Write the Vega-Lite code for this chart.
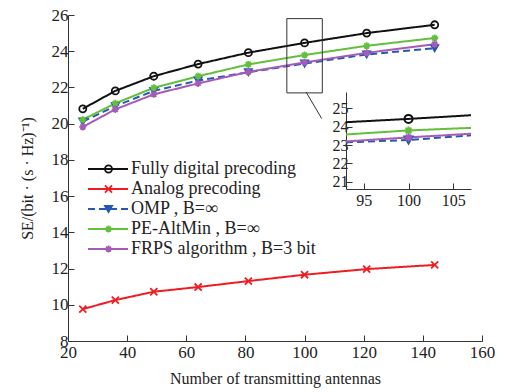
{
  "$schema": "https://vega.github.io/schema/vega-lite/v6.json",
  "autosize": "none",
  "width": 414,
  "height": 326,
  "padding": {"left": 68, "top": 15, "right": 24, "bottom": 51},
  "background": "white",
  "config": {
    "view": {"stroke": null},
    "font": "Liberation Serif, Times New Roman, serif",
    "axis": {
      "labelFont": "Liberation Serif, Times New Roman, serif",
      "titleFont": "Liberation Serif, Times New Roman, serif",
      "labelFontSize": 17,
      "titleFontSize": 16,
      "titleFontWeight": "normal",
      "labelColor": "#222",
      "titleColor": "#222",
      "domainColor": "#333",
      "tickColor": "#333",
      "grid": false,
      "tickSize": -6,
      "labelOverlap": false,
      "labelFlush": false,
      "format": "d"
    },
    "legend": {"labelFont": "Liberation Serif, Times New Roman, serif", "labelLimit": 400}
  },
  "datasets": {
    "main": [
      {"n": 25, "se": 20.82, "series": "Fully digital precoding", "ord": 1},
      {"n": 36, "se": 21.81, "series": "Fully digital precoding", "ord": 1},
      {"n": 49, "se": 22.62, "series": "Fully digital precoding", "ord": 1},
      {"n": 64, "se": 23.29, "series": "Fully digital precoding", "ord": 1},
      {"n": 81, "se": 23.92, "series": "Fully digital precoding", "ord": 1},
      {"n": 100, "se": 24.46, "series": "Fully digital precoding", "ord": 1},
      {"n": 121, "se": 25.0, "series": "Fully digital precoding", "ord": 1},
      {"n": 144, "se": 25.46, "series": "Fully digital precoding", "ord": 1},
      {"n": 25, "se": 9.76, "series": "Analog precoding", "ord": 2},
      {"n": 36, "se": 10.26, "series": "Analog precoding", "ord": 2},
      {"n": 49, "se": 10.72, "series": "Analog precoding", "ord": 2},
      {"n": 64, "se": 10.98, "series": "Analog precoding", "ord": 2},
      {"n": 81, "se": 11.31, "series": "Analog precoding", "ord": 2},
      {"n": 100, "se": 11.66, "series": "Analog precoding", "ord": 2},
      {"n": 121, "se": 11.97, "series": "Analog precoding", "ord": 2},
      {"n": 144, "se": 12.2, "series": "Analog precoding", "ord": 2},
      {"n": 25, "se": 20.12, "series": "OMP , B=∞", "ord": 3},
      {"n": 36, "se": 20.97, "series": "OMP , B=∞", "ord": 3},
      {"n": 49, "se": 21.81, "series": "OMP , B=∞", "ord": 3},
      {"n": 64, "se": 22.38, "series": "OMP , B=∞", "ord": 3},
      {"n": 81, "se": 22.84, "series": "OMP , B=∞", "ord": 3},
      {"n": 100, "se": 23.32, "series": "OMP , B=∞", "ord": 3},
      {"n": 121, "se": 23.82, "series": "OMP , B=∞", "ord": 3},
      {"n": 144, "se": 24.17, "series": "OMP , B=∞", "ord": 3},
      {"n": 25, "se": 20.22, "series": "PE-AltMin , B=∞", "ord": 4},
      {"n": 36, "se": 21.12, "series": "PE-AltMin , B=∞", "ord": 4},
      {"n": 49, "se": 21.98, "series": "PE-AltMin , B=∞", "ord": 4},
      {"n": 64, "se": 22.62, "series": "PE-AltMin , B=∞", "ord": 4},
      {"n": 81, "se": 23.27, "series": "PE-AltMin , B=∞", "ord": 4},
      {"n": 100, "se": 23.79, "series": "PE-AltMin , B=∞", "ord": 4},
      {"n": 121, "se": 24.3, "series": "PE-AltMin , B=∞", "ord": 4},
      {"n": 144, "se": 24.73, "series": "PE-AltMin , B=∞", "ord": 4},
      {"n": 25, "se": 19.82, "series": "FRPS algorithm , B=3 bit", "ord": 5},
      {"n": 36, "se": 20.79, "series": "FRPS algorithm , B=3 bit", "ord": 5},
      {"n": 49, "se": 21.62, "series": "FRPS algorithm , B=3 bit", "ord": 5},
      {"n": 64, "se": 22.22, "series": "FRPS algorithm , B=3 bit", "ord": 5},
      {"n": 81, "se": 22.86, "series": "FRPS algorithm , B=3 bit", "ord": 5},
      {"n": 100, "se": 23.38, "series": "FRPS algorithm , B=3 bit", "ord": 5},
      {"n": 121, "se": 23.91, "series": "FRPS algorithm , B=3 bit", "ord": 5},
      {"n": 144, "se": 24.39, "series": "FRPS algorithm , B=3 bit", "ord": 5}
    ],
    "inset": [
      {"n": 93, "se": 24.25, "series": "Fully digital precoding", "ord": 1},
      {"n": 100, "se": 24.43, "series": "Fully digital precoding", "ord": 1},
      {"n": 107, "se": 24.63, "series": "Fully digital precoding", "ord": 1},
      {"n": 93, "se": 23.15, "series": "OMP , B=∞", "ord": 3},
      {"n": 100, "se": 23.28, "series": "OMP , B=∞", "ord": 3},
      {"n": 107, "se": 23.53, "series": "OMP , B=∞", "ord": 3},
      {"n": 93, "se": 23.58, "series": "PE-AltMin , B=∞", "ord": 4},
      {"n": 100, "se": 23.8, "series": "PE-AltMin , B=∞", "ord": 4},
      {"n": 107, "se": 23.94, "series": "PE-AltMin , B=∞", "ord": 4},
      {"n": 93, "se": 23.2, "series": "FRPS algorithm , B=3 bit", "ord": 5},
      {"n": 100, "se": 23.42, "series": "FRPS algorithm , B=3 bit", "ord": 5},
      {"n": 107, "se": 23.62, "series": "FRPS algorithm , B=3 bit", "ord": 5}
    ],
    "box": [{"xa": 94, "xb": 106, "ya": 21.7, "yb": 25.8}],
    "conn": [{"xa": 100.5, "ya": 21.75, "xb": 105.8, "yb": 20.28}]
  },
  "layer": [
    {
      "layer": [
        {
          "data": {"name": "main"},
          "mark": {"type": "line", "strokeWidth": 2},
          "encoding": {
            "x": {"field": "n", "type": "quantitative", "title": "Number of transmitting antennas", "scale": {"domain": [20, 160], "nice": false}, "axis": {"values": [20, 40, 60, 80, 100, 120, 140, 160], "titlePadding": 10, "labelPadding": 9, "labelOverlap": false}},
            "y": {"field": "se", "type": "quantitative", "title": "SE/(bit · (s · Hz)⁻¹)", "scale": {"domain": [8, 26], "nice": false}, "axis": {"values": [8, 10, 12, 14, 16, 18, 20, 22, 24, 26], "titlePadding": 16, "labelPadding": 6, "labelOverlap": false}},
            "color": {"field": "series", "type": "nominal", "sort": {"field": "ord", "op": "min"}, "scale": {"range": ["#111111", "#ee1d23", "#2657b5", "#62c03c", "#a55cb8"]},
              "legend": {"orient": "none", "legendX": 31, "legendY": 145, "title": null, "symbolType": "M-5,0L5,0", "symbolSize": 64, "symbolStrokeWidth": 2, "labelFontSize": 18, "labelOffset": 14, "rowPadding": 2, "labelColor": "#222"}},
            "strokeDash": {"field": "series", "type": "nominal", "sort": {"field": "ord", "op": "min"}, "scale": {"range": [[1, 0], [1, 0], [7, 4], [1, 0], [1, 0]]},
              "legend": {"orient": "none", "legendX": 31, "legendY": 145, "title": null, "symbolType": "M-5,0L5,0", "symbolSize": 64, "symbolStrokeWidth": 2, "labelFontSize": 18, "labelOffset": 14, "rowPadding": 2, "labelColor": "#222"}},
            "detail": {"field": "series"}
          }
        },
        {
          "data": {"name": "main"},
          "transform": [{"calculate": "datum.series", "as": "m"}],
          "mark": {"type": "point", "filled": false, "size": 50, "strokeWidth": 1.8, "opacity": 1},
          "encoding": {
            "x": {"field": "n", "type": "quantitative", "title": "Number of transmitting antennas", "scale": {"domain": [20, 160], "nice": false}, "axis": {"values": [20, 40, 60, 80, 100, 120, 140, 160], "titlePadding": 10, "labelPadding": 9, "labelOverlap": false}},
            "y": {"field": "se", "type": "quantitative", "title": "SE/(bit · (s · Hz)⁻¹)", "scale": {"domain": [8, 26], "nice": false}, "axis": {"values": [8, 10, 12, 14, 16, 18, 20, 22, 24, 26], "titlePadding": 16, "labelPadding": 6, "labelOverlap": false}},
            "stroke": {"field": "m", "type": "nominal", "sort": {"field": "ord", "op": "min"}, "scale": {"range": ["#111111", "#ee1d23", "#2657b5", "#62c03c", "#a55cb8"]},
              "legend": {"orient": "none", "legendX": 31.5, "legendY": 145, "title": null, "symbolSize": 50, "symbolStrokeWidth": 1.8, "labelFontSize": 18, "labelOpacity": 0, "labelOffset": 14, "rowPadding": 2}},
            "fill": {"field": "m", "type": "nominal", "sort": {"field": "ord", "op": "min"}, "scale": {"range": ["transparent", "transparent", "#2657b5", "transparent", "transparent"]},
              "legend": {"orient": "none", "legendX": 31.5, "legendY": 145, "title": null, "symbolSize": 50, "symbolStrokeWidth": 1.8, "labelFontSize": 18, "labelOpacity": 0, "labelOffset": 14, "rowPadding": 2}},
            "shape": {"field": "m", "type": "nominal", "sort": {"field": "ord", "op": "min"}, "scale": {"range": ["circle", "M-1,-1L1,1M-1,1L1,-1", "triangle-down", "M-1,0L1,0M0,-1L0,1M-0.7,-0.7L0.7,0.7M-0.7,0.7L0.7,-0.7", "M-1,0L1,0M0,-1L0,1M-0.7,-0.7L0.7,0.7M-0.7,0.7L0.7,-0.7"]},
              "legend": {"orient": "none", "legendX": 31.5, "legendY": 145, "title": null, "symbolSize": 50, "symbolStrokeWidth": 1.8, "labelFontSize": 18, "labelOpacity": 0, "labelOffset": 14, "rowPadding": 2}}
          }
        },
        {
          "data": {"name": "box"},
          "mark": {"type": "rect", "fill": "transparent", "stroke": "#333", "strokeWidth": 1},
          "encoding": {
            "x": {"field": "xa", "type": "quantitative", "title": "Number of transmitting antennas", "scale": {"domain": [20, 160], "nice": false}, "axis": {"values": [20, 40, 60, 80, 100, 120, 140, 160], "titlePadding": 10, "labelPadding": 9, "labelOverlap": false}},
            "x2": {"field": "xb"},
            "y": {"field": "ya", "type": "quantitative", "title": "SE/(bit · (s · Hz)⁻¹)", "scale": {"domain": [8, 26], "nice": false}, "axis": {"values": [8, 10, 12, 14, 16, 18, 20, 22, 24, 26], "titlePadding": 16, "labelPadding": 6, "labelOverlap": false}},
            "y2": {"field": "yb"}
          }
        },
        {
          "data": {"name": "conn"},
          "mark": {"type": "rule", "stroke": "#333", "strokeWidth": 1},
          "encoding": {
            "x": {"field": "xa", "type": "quantitative", "title": "Number of transmitting antennas", "scale": {"domain": [20, 160], "nice": false}, "axis": {"values": [20, 40, 60, 80, 100, 120, 140, 160], "titlePadding": 10, "labelPadding": 9, "labelOverlap": false}},
            "x2": {"field": "xb"},
            "y": {"field": "ya", "type": "quantitative", "title": "SE/(bit · (s · Hz)⁻¹)", "scale": {"domain": [8, 26], "nice": false}, "axis": {"values": [8, 10, 12, 14, 16, 18, 20, 22, 24, 26], "titlePadding": 16, "labelPadding": 6, "labelOverlap": false}},
            "y2": {"field": "yb"}
          }
        }
      ]
    },
    {
      "layer": [
        {
          "data": {"name": "inset"},
          "mark": {"type": "line", "strokeWidth": 2},
          "encoding": {
            "x": {"field": "n", "type": "quantitative", "title": null, "scale": {"domain": [93, 107], "range": [278, 403], "nice": false}, "axis": {"orient": "bottom", "offset": -152, "values": [95, 100, 105], "labelFontSize": 16, "labelPadding": 9, "title": null, "labelOverlap": false}},
            "y": {"field": "se", "type": "quantitative", "title": null, "scale": {"domain": [20.6, 25.9], "range": [174, 77], "nice": false}, "axis": {"orient": "left", "offset": -278, "values": [21, 22, 23, 24, 25], "labelFontSize": 16, "labelPadding": 4, "title": null, "labelOverlap": false}},
            "color": {"field": "series", "type": "nominal", "sort": {"field": "ord", "op": "min"}, "scale": {"range": ["#111111", "#ee1d23", "#2657b5", "#62c03c", "#a55cb8"]},
              "legend": {"orient": "none", "legendX": 31, "legendY": 145, "title": null, "symbolType": "M-5,0L5,0", "symbolSize": 64, "symbolStrokeWidth": 2, "labelFontSize": 18, "labelOffset": 14, "rowPadding": 2, "labelColor": "#222"}},
            "strokeDash": {"field": "series", "type": "nominal", "sort": {"field": "ord", "op": "min"}, "scale": {"range": [[1, 0], [1, 0], [7, 4], [1, 0], [1, 0]]},
              "legend": {"orient": "none", "legendX": 31, "legendY": 145, "title": null, "symbolType": "M-5,0L5,0", "symbolSize": 64, "symbolStrokeWidth": 2, "labelFontSize": 18, "labelOffset": 14, "rowPadding": 2, "labelColor": "#222"}},
            "detail": {"field": "series"}
          }
        },
        {
          "data": {"name": "inset"},
          "transform": [{"filter": "datum.n == 100"}, {"calculate": "datum.series", "as": "m"}],
          "mark": {"type": "point", "filled": false, "size": 64, "strokeWidth": 2, "opacity": 1},
          "encoding": {
            "x": {"field": "n", "type": "quantitative", "title": null, "scale": {"domain": [93, 107], "range": [278, 403], "nice": false}, "axis": {"orient": "bottom", "offset": -152, "values": [95, 100, 105], "labelFontSize": 16, "labelPadding": 9, "title": null, "labelOverlap": false}},
            "y": {"field": "se", "type": "quantitative", "title": null, "scale": {"domain": [20.6, 25.9], "range": [174, 77], "nice": false}, "axis": {"orient": "left", "offset": -278, "values": [21, 22, 23, 24, 25], "labelFontSize": 16, "labelPadding": 4, "title": null, "labelOverlap": false}},
            "stroke": {"field": "m", "type": "nominal", "sort": {"field": "ord", "op": "min"}, "scale": {"range": ["#111111", "#ee1d23", "#2657b5", "#62c03c", "#a55cb8"]},
              "legend": {"orient": "none", "legendX": 31.5, "legendY": 145, "title": null, "symbolSize": 50, "symbolStrokeWidth": 1.8, "labelFontSize": 18, "labelOpacity": 0, "labelOffset": 14, "rowPadding": 2}},
            "fill": {"field": "m", "type": "nominal", "sort": {"field": "ord", "op": "min"}, "scale": {"range": ["transparent", "transparent", "#2657b5", "transparent", "transparent"]},
              "legend": {"orient": "none", "legendX": 31.5, "legendY": 145, "title": null, "symbolSize": 50, "symbolStrokeWidth": 1.8, "labelFontSize": 18, "labelOpacity": 0, "labelOffset": 14, "rowPadding": 2}},
            "shape": {"field": "m", "type": "nominal", "sort": {"field": "ord", "op": "min"}, "scale": {"range": ["circle", "M-1,-1L1,1M-1,1L1,-1", "triangle-down", "M-1,0L1,0M0,-1L0,1M-0.7,-0.7L0.7,0.7M-0.7,0.7L0.7,-0.7", "M-1,0L1,0M0,-1L0,1M-0.7,-0.7L0.7,0.7M-0.7,0.7L0.7,-0.7"]},
              "legend": {"orient": "none", "legendX": 31.5, "legendY": 145, "title": null, "symbolSize": 50, "symbolStrokeWidth": 1.8, "labelFontSize": 18, "labelOpacity": 0, "labelOffset": 14, "rowPadding": 2}}
          }
        }
      ]
    }
  ],
  "resolve": {"scale": {"x": "independent", "y": "independent"}, "axis": {"x": "independent", "y": "independent"}}
}
